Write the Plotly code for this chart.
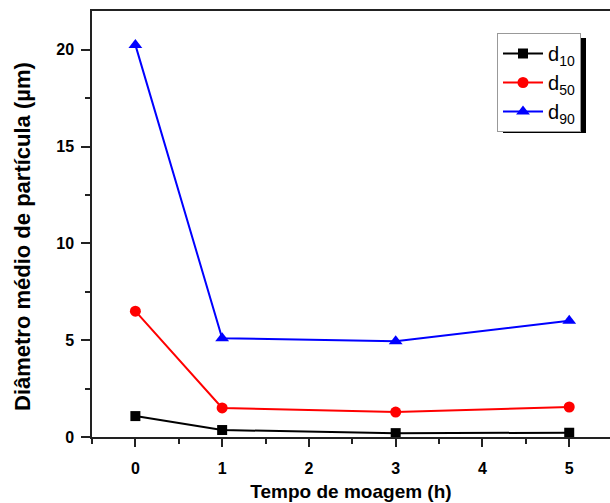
import plotly.graph_objects as go

tempo = [0, 1, 3, 5]
d10 = [1.08, 0.36, 0.20, 0.22]
d50 = [6.5, 1.5, 1.29, 1.55]
d90 = [20.25, 5.1, 4.95, 6.0]
names = ["d<sub>10</sub>", "d<sub>50</sub>", "d<sub>90</sub>"]
colors = ["black", "red", "blue"]
symbols = ["square", "circle", "triangle-up"]
sizes = [10, 11, 12]

W, H = 610, 503
ML, MR, MT, MB = 92, 0, 11, 66

fig = go.Figure()
for ys, n, c, s, sz in zip([d10, d50, d90], names, colors, symbols, sizes):
    fig.add_trace(go.Scatter(x=tempo, y=ys, name=n, mode="lines+markers",
                             line=dict(color=c, width=2),
                             marker=dict(symbol=s, size=sz, color=c)))

pw = W - ML - MR
ph = H - MT - MB
def px_x(p):
    return (p - ML) / pw
def px_y(p):
    return (H - MB - p) / ph

fig.add_shape(type="rect", xref="paper", yref="paper",
              x0=px_x(503), x1=px_x(586), y0=px_y(133), y1=px_y(38),
              fillcolor="black", line=dict(width=0), layer="above")

fig.add_annotation(text="Diâmetro médio de partícula (µm)", textangle=-90,
                   xref="paper", yref="paper", x=px_x(22), y=px_y(237),
                   xanchor="center", yanchor="middle", showarrow=False,
                   font=dict(size=22, weight="bold", family="Liberation Sans, Arial", color="black"))

tf = dict(size=16, family="Liberation Sans, Arial", weight="bold", color="black")

fig.update_layout(
    width=W, height=H,
    margin=dict(l=ML, r=MR, t=MT, b=MB),
    plot_bgcolor="white", paper_bgcolor="white",
    font=dict(family="Liberation Sans, Arial", color="black"),
    showlegend=True,
    legend=dict(x=px_x(497), y=px_y(33), xanchor="left", yanchor="top",
                bgcolor="white", bordercolor="#999999", borderwidth=1,
                font=dict(size=20, color="black"), tracegroupgap=0,
                itemwidth=40),
    xaxis=dict(range=[-0.5, 5.47], tickvals=[0, 1, 2, 3, 4, 5],
               showgrid=False, zeroline=False, showline=True, linecolor="#222",
               linewidth=1.5, mirror=True, ticks="outside", ticklen=8,
               tickcolor="#222", tickwidth=1.5, ticklabelstandoff=8,
               minor=dict(dtick=0.5, ticks="outside", ticklen=5, tickcolor="#222", tickwidth=1.5),
               tickfont=tf,
               title=dict(text="Tempo de moagem (h)",
                          font=dict(size=19, weight="bold"), standoff=9)),
    yaxis=dict(range=[0, 22], tickvals=[0, 5, 10, 15, 20],
               showgrid=False, zeroline=False, showline=True, linecolor="#222",
               linewidth=1.5, mirror=False, ticks="outside", ticklen=9,
               tickcolor="#222", tickwidth=1.5, ticklabelstandoff=4,
               minor=dict(dtick=2.5, ticks="outside", ticklen=5, tickcolor="#222", tickwidth=1.5),
               tickfont=tf),
)
fig.write_html("out.html")
